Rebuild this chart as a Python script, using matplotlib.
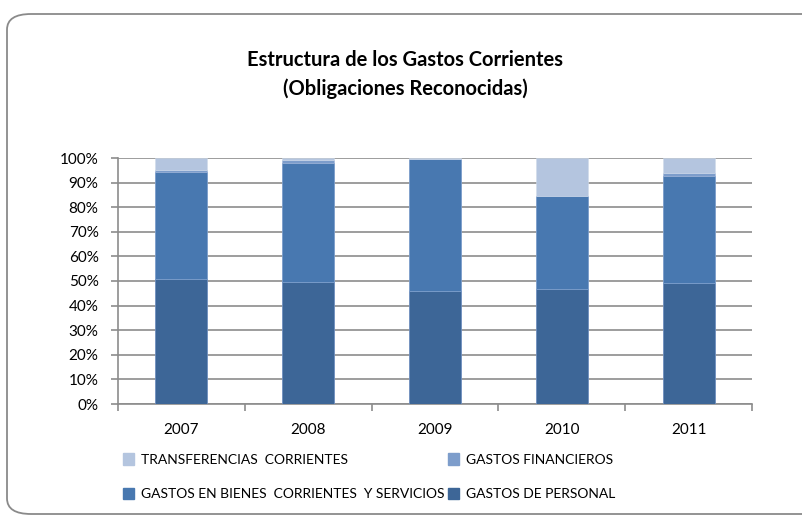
import numpy as np
import matplotlib.pyplot as plt
from matplotlib.patches import FancyBboxPatch, Patch

plt.rcParams['font.family'] = ['Lato', 'DejaVu Sans']

years = ['2007', '2008', '2009', '2010', '2011']
personal = [50.8, 49.7, 45.9, 46.6, 49.3]
bienes = [43.6, 48.2, 53.5, 37.8, 43.5]
financieros = [0.9, 1.2, 0.3, 0.3, 1.2]
transferencias = [4.7, 0.9, 0.3, 15.3, 6.0]

col_personal = '#3D6697'
col_bienes = '#4878B0'
col_fin = '#7D9DCB'
col_trans = '#B4C5DF'

fig = plt.figure(figsize=(8.02, 5.20), dpi=100)

# marco redondeado
frame = FancyBboxPatch((7 / 802, 6 / 520), 820 / 802, 500 / 520,
                       boxstyle='round,pad=0,rounding_size=0.03',
                       transform=fig.transFigure, fill=False,
                       edgecolor='#8a8a8a', linewidth=1.3, clip_on=False)
fig.patches.append(frame)

ax = fig.add_axes([118 / 802, 116 / 520, 634 / 802, 246 / 520])

x = np.arange(len(years))
w = 0.41
b1 = np.array(personal)
b2 = b1 + np.array(bienes)
b3 = b2 + np.array(financieros)
ax.bar(x, personal, w, color=col_personal, edgecolor='#6f8fbf', linewidth=0.6, zorder=3)
ax.bar(x, bienes, w, bottom=b1, color=col_bienes, edgecolor='#7b9dcb', linewidth=0.6, zorder=3)
ax.bar(x, financieros, w, bottom=b2, color=col_fin, edgecolor='#9fb5d8', linewidth=0.4, zorder=3)
ax.bar(x, transferencias, w, bottom=b3, color=col_trans, edgecolor='#d0dbea', linewidth=0.4, zorder=3)

ax.set_xlim(-0.5, len(years) - 0.5)
ax.set_ylim(0, 100)
ax.set_yticks(np.arange(0, 101, 10))
ax.set_yticklabels([f'{v}%' for v in range(0, 101, 10)], fontsize=11)
ax.yaxis.grid(True, color='#8c8c8c', linewidth=1.2, zorder=0)
ax.set_axisbelow(True)

ax.set_xticks(x)
ax.set_xticklabels(years, fontsize=11)
ax.tick_params(axis='x', length=0, pad=14)
ax.set_xticks(np.arange(-0.5, len(years), 1), minor=True)
ax.tick_params(axis='x', which='minor', length=5, color='#8c8c8c', width=1.2)
ax.tick_params(axis='y', length=5, color='#8c8c8c', width=1.2, pad=9)

for s in ['top', 'right']:
    ax.spines[s].set_visible(False)
for s in ['left', 'bottom']:
    ax.spines[s].set_color('#8c8c8c')
    ax.spines[s].set_linewidth(1.2)

fig.text(0.505, 0.884, 'Estructura de los Gastos Corrientes', ha='center', va='center',
         fontsize=14.5, fontweight='bold')
fig.text(0.505, 0.830, '(Obligaciones Reconocidas)', ha='center', va='center',
         fontsize=14.5, fontweight='bold')

handles = [Patch(color=col_trans), Patch(color=col_bienes),
           Patch(color=col_fin), Patch(color=col_personal)]
labels = ['TRANSFERENCIAS  CORRIENTES', 'GASTOS EN BIENES  CORRIENTES  Y SERVICIOS',
          'GASTOS FINANCIEROS', 'GASTOS DE PERSONAL']
fig.legend(handles, labels, ncol=2, loc='upper left', bbox_to_anchor=(110 / 802, 1 - 441 / 520),
           frameon=False, fontsize=10, handlelength=0.85, handleheight=0.85,
           handletextpad=0.45, columnspacing=0.25, labelspacing=1.6)

fig.savefig('out.png', dpi=100)
